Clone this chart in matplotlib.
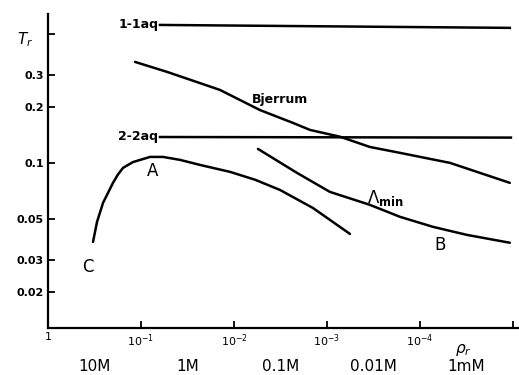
import matplotlib
matplotlib.use("Agg")
import matplotlib.pyplot as plt
import matplotlib.transforms as mtransforms

# curve C -> A (rises from C, peaks near A, then falls)
ca_rho = [0.328, 0.297, 0.256, 0.200, 0.177, 0.156, 0.122, 0.080, 0.058, 0.038,
          0.0232, 0.011, 0.0059, 0.0032, 0.00142, 0.00093, 0.000566]
ca_T = [0.0374, 0.048, 0.0608, 0.078, 0.0865, 0.094, 0.101, 0.1077, 0.1077, 0.1038,
        0.0975, 0.0894, 0.081, 0.0714, 0.0571, 0.0492, 0.0413]

# Bjerrum curve
bj_rho = [0.116, 0.0525, 0.0232, 0.01415, 0.0085, 0.00525, 0.00232, 0.00152,
          0.00072, 0.000345, 0.000164, 4.75e-5, 1.08e-5]
bj_T = [0.3515, 0.3105, 0.270, 0.248, 0.218, 0.193, 0.1645, 0.1507,
        0.1384, 0.1219, 0.1133, 0.100, 0.078]

# Lambda_min curve (ends near B)
lm_rho = [0.00552, 0.0021, 0.00093, 0.000345, 0.000164, 7.24e-5, 3.12e-5, 1.08e-5]
lm_T = [0.119, 0.0883, 0.0697, 0.0593, 0.0511, 0.0451, 0.0408, 0.037]

# aqueous reference lines
aq11_rho = [0.0625, 1.08e-5]
aq11_T = [0.557, 0.537]
aq22_rho = [0.0625, 1.05e-5]
aq22_T = [0.138, 0.137]

xticks = [1, 1e-1, 1e-2, 1e-3, 1e-4, 1e-5]
xticklabels = ["1", "$10^{-1}$", "$10^{-2}$", "$10^{-3}$", "$10^{-4}$", ""]
yticks = [0.5, 0.3, 0.2, 0.1, 0.05, 0.03, 0.02]
yticklabels = ["", "0.3", "0.2", "0.1", "0.05", "0.03", "0.02"]

conc_pos = [10**-0.5, 10**-1.5, 10**-2.5, 10**-3.5, 10**-4.5]
conc_labels = ["10M", "1M", "0.1M", "0.01M", "1mM"]

fig = plt.figure(figsize=(5.19, 3.75), dpi=100)
ax = fig.add_axes([0.0925, 0.1253, 0.9075, 0.8373])

lw = 1.8
ax.plot(ca_rho, ca_T, color="black", lw=lw, solid_capstyle="round", solid_joinstyle="round")
ax.plot(bj_rho, bj_T, color="black", lw=lw, solid_capstyle="round", solid_joinstyle="round")
ax.plot(lm_rho, lm_T, color="black", lw=lw, solid_capstyle="round", solid_joinstyle="round")
ax.plot(aq11_rho, aq11_T, color="black", lw=lw)
ax.plot(aq22_rho, aq22_T, color="black", lw=lw)

ax.set_xscale("log")
ax.set_yscale("log")
ax.set_xlim(1, 8.6e-6)
ax.set_ylim(0.0128, 0.638)

ax.set_xticks(xticks)
ax.set_xticklabels(xticklabels, fontsize=8)
ax.set_yticks(yticks)
ax.set_yticklabels(yticklabels, fontsize=8, fontweight="bold")
ax.minorticks_off()
ax.tick_params(direction="in", length=5, width=1.3, pad=3)

for s in ["top", "right"]:
    ax.spines[s].set_visible(False)
for s in ["left", "bottom"]:
    ax.spines[s].set_linewidth(1.6)

# labels on curves
ax.text(0.065, 0.562, "1-1aq", ha="right", va="center", fontsize=9, fontweight="bold")
ax.text(0.065, 0.139, "2-2aq", ha="right", va="center", fontsize=9, fontweight="bold")
ax.text(0.0032, 0.219, "Bjerrum", ha="center", va="center", fontsize=9, fontweight="bold")
ax.text(0.0743, 0.0905, "A", ha="center", va="center", fontsize=12, fontweight="medium")
ax.text(0.371, 0.0274, "C", ha="center", va="center", fontsize=12, fontweight="medium")
ax.text(6.1e-5, 0.036, "B", ha="center", va="center", fontsize=12, fontweight="medium")
ax.text(3.7e-4, 0.0645, r"$\Lambda_{\mathbf{min}}$", ha="left", va="center", fontsize=12)

ax.text(-0.049, 0.917, r"$T_r$", transform=ax.transAxes, ha="center", va="center",
        fontsize=11)
trans = mtransforms.blended_transform_factory(ax.transData, ax.transAxes)
ax.text(3.45e-5, -0.07, r"$\rho_r$", transform=trans, ha="center", va="center",
        fontsize=11)
for xp, lab in zip(conc_pos, conc_labels):
    ax.text(xp, -0.124, lab, transform=trans, ha="center", va="center", fontsize=11)

fig.savefig("out.png", dpi=100)
